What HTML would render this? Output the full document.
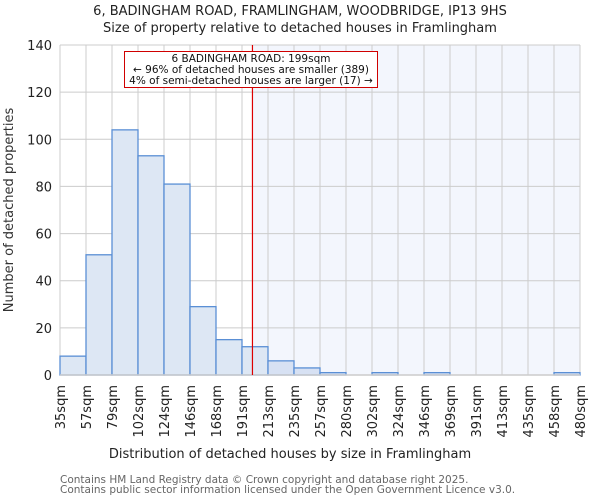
<!DOCTYPE html>
<html><head><meta charset="utf-8"><style>
body{margin:0;background:#fff;font-family:"DejaVu Sans","Liberation Sans",sans-serif;}
</style></head><body>
<svg width="600" height="500" xmlns="http://www.w3.org/2000/svg" font-family="DejaVu Sans, Liberation Sans, sans-serif">
<g id="g"></g>
</svg>
<script>
const labels=["35sqm","57sqm","79sqm","102sqm","124sqm","146sqm","168sqm","191sqm","213sqm","235sqm","257sqm","280sqm","302sqm","324sqm","346sqm","369sqm","391sqm","413sqm","435sqm","458sqm","480sqm"];
const counts=[8,51,104,93,81,29,15,12,6,3,1,0,1,0,1,0,0,0,0,1];
const yTicks=[0,20,40,60,80,100,120,140];
const marker=199;
const binEdges=[35,57,79,102,124,146,168,191,213,235,257,280,302,324,346,369,391,413,435,458,480];
const L=60,R=580,T=45,B=375,bw=(R-L)/counts.length;
const NS="http://www.w3.org/2000/svg";
const g=document.getElementById('g');
function y(v){return B-(v/140)*(B-T);}
function xv(v){let i=0;while(i<binEdges.length-2&&v>binEdges[i+1])i++;return L+bw*(i+(v-binEdges[i])/(binEdges[i+1]-binEdges[i]));}
function el(t,a,txt){const e=document.createElementNS(NS,t);for(const k in a)e.setAttribute(k,a[k]);if(txt!==undefined)e.textContent=txt;g.appendChild(e);return e;}
const mx=xv(marker)+1;
let e=el('rect',{x:mx,y:T,width:R-mx,height:B-T,fill:'#f3f6fd'});


yTicks.forEach(v=>{let l=el('line',{x1:L,x2:R,y1:y(v),y2:y(v),stroke:'#cccccc','stroke-width':1});


let t=el('text',{x:L-8,y:y(v)+5,'text-anchor':'end','font-size':13,fill:'#222'},v);

});
labels.forEach((lb,i)=>{const x=L+i*bw;let l=el('line',{x1:x,x2:x,y1:T,y2:B,stroke:'#cccccc','stroke-width':1});


let t=el('text',{transform:`translate(${x+5},${B+10}) rotate(-90)`,'text-anchor':'end','font-size':13,fill:'#222'},lb);

});
el('line',{x1:R,x2:R,y1:T,y2:B,stroke:'#cccccc'});
counts.forEach((c,i)=>{const x=L+i*bw;let r=el('rect',{x:x,y:y(c),width:bw,height:B-y(c),fill:(x>=mx-1?'#d7e1f3':'#dde7f4'),stroke:'#5a8fd5','stroke-width':1.3});

});
el('line',{x1:L,x2:R,y1:B,y2:B,stroke:'#cccccc','stroke-width':1.5});
e=el('line',{x1:mx,x2:mx,y1:T,y2:B,stroke:'#dd0000','stroke-width':1.2});


e=el('rect',{x:124.5,y:51.5,width:253,height:36,fill:'#fff',stroke:'#d00000','stroke-width':1});


[["6 BADINGHAM ROAD: 199sqm",62],["← 96% of detached houses are smaller (389)",73],["4% of semi-detached houses are larger (17) →",84]].forEach(a=>{let t=el('text',{x:251,y:a[1],'text-anchor':'middle','font-size':10.5,fill:'#111'},a[0]);

});
e=el('text',{x:300,y:15,'text-anchor':'middle','font-size':13,fill:'#222'},"6, BADINGHAM ROAD, FRAMLINGHAM, WOODBRIDGE, IP13 9HS");


e=el('text',{x:300,y:32,'text-anchor':'middle','font-size':13,fill:'#222'},"Size of property relative to detached houses in Framlingham");


e=el('text',{transform:'translate(13,210) rotate(-90)','text-anchor':'middle','font-size':13,fill:'#333'},"Number of detached properties");


e=el('text',{x:290,y:458,'text-anchor':'middle','font-size':13,fill:'#222'},"Distribution of detached houses by size in Framlingham");


e=el('text',{x:60,y:483,'font-size':10.5,fill:'#666'},"Contains HM Land Registry data © Crown copyright and database right 2025.");


e=el('text',{x:60,y:493,'font-size':10.5,fill:'#666'},"Contains public sector information licensed under the Open Government Licence v3.0.");


</script>
</body></html>
